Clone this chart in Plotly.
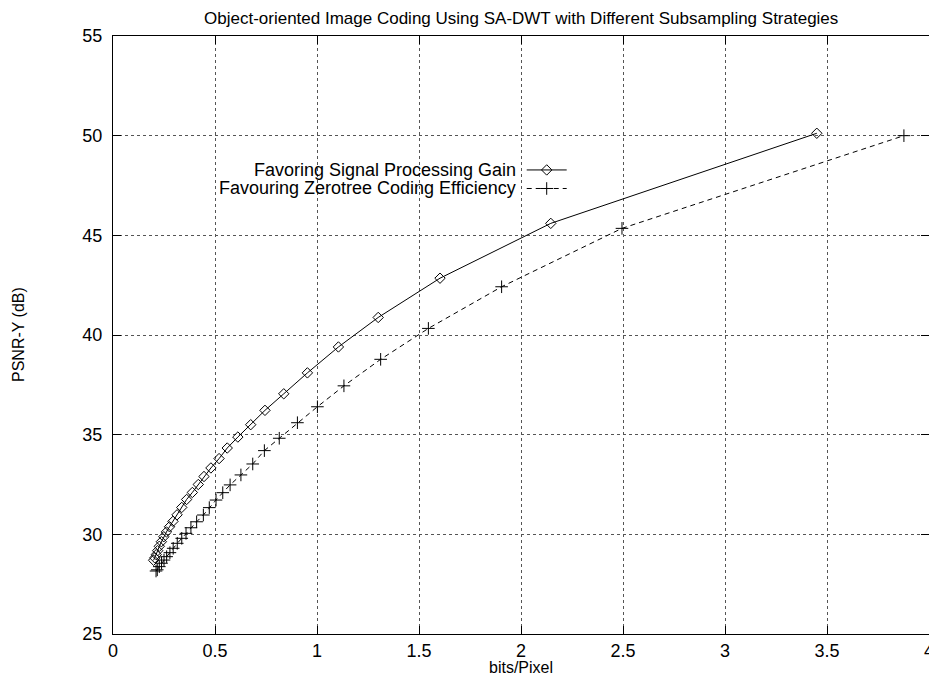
import plotly.graph_objects as go

# Favoring Signal Processing Gain (diamonds, solid)
bpp_sp = [0.199, 0.205, 0.212, 0.219, 0.227, 0.237, 0.249, 0.262, 0.277, 0.294,
          0.314, 0.337, 0.361, 0.389, 0.418, 0.446, 0.480, 0.520, 0.560, 0.612,
          0.675, 0.745, 0.837, 0.953, 1.105, 1.300, 1.603, 2.146, 3.450]
psnr_sp = [28.70, 28.82, 28.98, 29.18, 29.40, 29.63, 29.88, 30.12, 30.38, 30.65,
           30.98, 31.35, 31.75, 32.10, 32.50, 32.90, 33.33, 33.80, 34.33, 34.88,
           35.50, 36.22, 37.05, 38.10, 39.40, 40.88, 42.85, 45.60, 50.12]

# Favouring Zerotree Coding Efficiency (plus, dashed)
bpp_zt = [0.211, 0.217, 0.227, 0.238, 0.250, 0.263, 0.279, 0.295, 0.315, 0.337,
          0.358, 0.382, 0.410, 0.443, 0.472, 0.505, 0.538, 0.574, 0.627, 0.685,
          0.742, 0.815, 0.904, 1.002, 1.132, 1.312, 1.546, 1.905, 2.495, 3.877]
psnr_zt = [28.16, 28.22, 28.38, 28.55, 28.71, 28.88, 29.08, 29.30, 29.55, 29.80,
           30.05, 30.33, 30.63, 30.97, 31.34, 31.72, 32.09, 32.48, 32.98, 33.53,
           34.20, 34.82, 35.60, 36.40, 37.45, 38.78, 40.33, 42.42, 45.35, 50.00]

series_names = ["Favoring Signal Processing Gain", "Favouring Zerotree Coding Efficiency"]
title_text = "Object-oriented Image Coding Using SA-DWT with Different Subsampling Strategies"
x_title = "bits/Pixel"
y_title = "PSNR-Y (dB)"
x_ticks = [0, 0.5, 1, 1.5, 2, 2.5, 3, 3.5, 4]
x_tick_labels = ["0", "0.5", "1", "1.5", "2", "2.5", "3", "3.5", "4"]
y_ticks = [25, 30, 35, 40, 45, 50, 55]

FONT = "Liberation Sans, Arial, Helvetica, sans-serif"

fig = go.Figure()

fig.add_trace(go.Scatter(
    x=bpp_sp, y=psnr_sp, mode="lines+markers", name=series_names[0],
    line=dict(color="black", width=1),
    marker=dict(symbol="diamond-open", size=8, color="black", line=dict(width=1, color="black")),
    showlegend=False))

fig.add_trace(go.Scatter(
    x=bpp_zt, y=psnr_zt, mode="lines+markers", name=series_names[1],
    line=dict(color="black", width=1, dash="5px,4px"),
    marker=dict(symbol="cross-thin-open", size=9, color="black", line=dict(width=1, color="black")),
    showlegend=False))

# Legend keys (gnuplot style: text on the left, sample on the right)
leg_y = [0.776, 0.745]
fig.add_trace(go.Scatter(x=[0.507, 0.556], y=[leg_y[0]] * 2, xaxis="x2", yaxis="y2",
                         mode="lines", line=dict(color="black", width=1), showlegend=False, hoverinfo="skip"))
fig.add_trace(go.Scatter(x=[0.5315], y=[leg_y[0]], xaxis="x2", yaxis="y2", mode="markers",
                         marker=dict(symbol="diamond-open", size=8, color="black", line=dict(width=1)),
                         showlegend=False, hoverinfo="skip"))
fig.add_trace(go.Scatter(x=[0.507, 0.556], y=[leg_y[1]] * 2, xaxis="x2", yaxis="y2",
                         mode="lines", line=dict(color="black", width=1, dash="5px,4px"),
                         showlegend=False, hoverinfo="skip"))
fig.add_trace(go.Scatter(x=[0.5315], y=[leg_y[1]], xaxis="x2", yaxis="y2", mode="markers",
                         marker=dict(symbol="cross-thin-open", size=9, color="black", line=dict(width=1)),
                         showlegend=False, hoverinfo="skip"))

for name, yy in zip(series_names, leg_y):
    fig.add_annotation(x=0.4963, y=yy, xref="x2", yref="y2", text=name, showarrow=False,
                       xanchor="right", yanchor="middle", font=dict(family=FONT, size=18, color="black"))

# Axis titles and chart title placed like gnuplot
fig.add_annotation(x=0.5, y=0, xref="paper", yref="paper", yshift=-33, text=x_title,
                   showarrow=False, xanchor="center", yanchor="middle",
                   font=dict(family=FONT, size=16, color="black"))
fig.add_annotation(x=0, y=0.5, xref="paper", yref="paper", xshift=-95, text=y_title,
                   textangle=-90, showarrow=False, xanchor="center", yanchor="middle",
                   font=dict(family=FONT, size=16, color="black"))
fig.add_annotation(x=0.5, y=1, xref="paper", yref="paper", yshift=18, text=title_text,
                   showarrow=False, xanchor="center", yanchor="middle",
                   font=dict(family=FONT, size=17, color="black"))

axis_common = dict(
    showline=True, linecolor="black", linewidth=1, mirror="allticks",
    ticks="inside", ticklen=8, tickcolor="black", tickwidth=1,
    showgrid=True, gridcolor="#555555", griddash="dot", gridwidth=1,
    zeroline=False, automargin=False, tickfont=dict(family=FONT, size=18, color="black"),
)

# The page body adds an 8px margin, so the figure is sized/positioned to compensate
fig.update_layout(
    width=929, height=669,
    margin=dict(l=105, r=8, t=28, b=43, autoexpand=False),
    paper_bgcolor="white", plot_bgcolor="white",
    xaxis=dict(range=[0, 4], tickvals=x_ticks, ticktext=x_tick_labels, ticklabelstandoff=0,
               **axis_common),
    yaxis=dict(range=[25, 55], tickvals=y_ticks, ticklabelstandoff=6, **axis_common),
    xaxis2=dict(range=[0, 1], overlaying="x", visible=False),
    yaxis2=dict(range=[0, 1], overlaying="y", visible=False),
)

fig.write_html("out.html")
